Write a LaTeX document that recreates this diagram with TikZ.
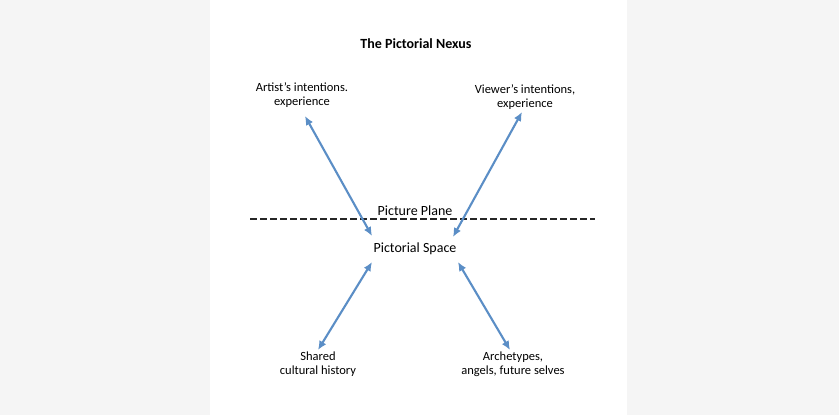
\documentclass[tikz,border=0pt]{standalone}
\usepackage{fontspec}
\setmainfont{Carlito}
\usetikzlibrary{arrows.meta}
\definecolor{bggray}{HTML}{F5F5F5}
\definecolor{arrowblue}{HTML}{5B8EC6}
\begin{document}
\begin{tikzpicture}[x=1pt,y=-1pt,
  lbl/.style={align=center,font=\fontsize{12.5}{14.5}\selectfont,inner sep=0pt},
  biglbl/.style={align=center,font=\fontsize{14}{16}\selectfont,inner sep=0pt},
  link/.style={draw=arrowblue,line width=2.1pt,{Latex[length=9pt,width=8pt]}-{Latex[length=9pt,width=8pt]}},
  plane/.style={draw=black!85,line width=2.2pt,dash pattern=on 7pt off 3pt}]
  \fill[bggray] (0,0) rectangle (839,415);
  \fill[white] (210,0) rectangle (627,415);
  \useasboundingbox (0,0) rectangle (839,415);
  \node[font=\bfseries\fontsize{14}{16}\selectfont,inner sep=0pt] (title) at (416,44) {The Pictorial Nexus};
  \node[lbl] (artist) at (302,95) {Artist’s intentions.\\experience};
  \node[lbl] (viewer) at (525,97) {Viewer’s intentions,\\experience};
  \node[biglbl] (plane) at (415,211) {Picture Plane};
  \node[biglbl] (space) at (415,249) {Pictorial Space};
  \node[lbl] (shared) at (318,364) {Shared\\cultural history};
  \node[lbl] (arch) at (513,364) {Archetypes,\\angels, future selves};
  \coordinate (pl) at (250,219);
  \coordinate (pr) at (595,219);
  \draw[plane] (pl) -- (pr);
  \coordinate (a1) at (305,116);
  \coordinate (a2) at (372,236);
  \coordinate (v1) at (522,112);
  \coordinate (v2) at (453,237);
  \coordinate (s1) at (372,262);
  \coordinate (s2) at (318,350);
  \coordinate (r1) at (458,262);
  \coordinate (r2) at (510,350);
  \draw[link] (a1) -- (a2);
  \draw[link] (v1) -- (v2);
  \draw[link] (s1) -- (s2);
  \draw[link] (r1) -- (r2);
\end{tikzpicture}
\end{document}
